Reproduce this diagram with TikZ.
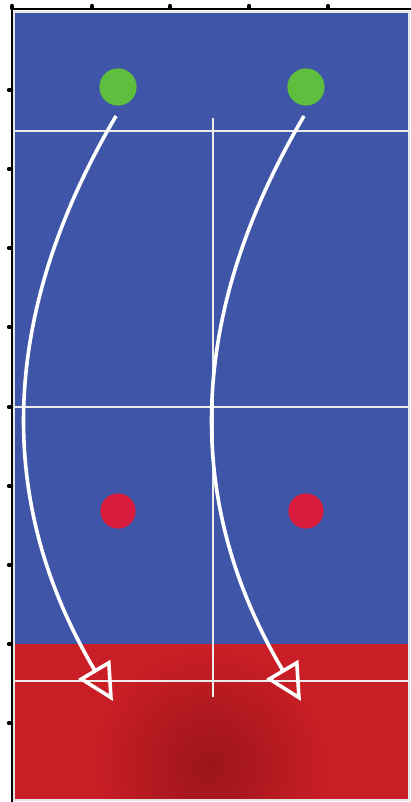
\documentclass[tikz,border=0pt]{standalone}
\usepackage{tikz}
\usetikzlibrary{arrows.meta}
\usepackage{xcolor}
\definecolor{fieldblue}{RGB}{63,86,168}
\definecolor{fieldred}{RGB}{202,30,38}
\definecolor{darkred}{RGB}{155,20,26}
\definecolor{blobgreen}{RGB}{96,190,62}
\definecolor{blobred}{RGB}{218,28,62}
\tikzset{
  gridline/.style={draw=white!85!gray, line width=0.05cm},
  flow/.style={draw=white, line width=0.09cm, -{Triangle[open, length=0.92cm, width=0.92cm]}},
  blob/.style={circle, inner sep=0pt, minimum size=0.93cm},
  tick/.style={line width=0.11cm, line cap=round}
}

\begin{document}
\begin{tikzpicture}[x=0.025cm, y=-0.025cm]
  \useasboundingbox (0,0) rectangle (411,802);
  % field
  \fill[fieldblue] (14,12) rectangle (409,644);
  \fill[fieldred] (14,644) rectangle (409,800);
  \begin{scope}
    \clip (14,644) rectangle (409,800);
    \shade[inner color=darkred, outer color=fieldred] (210,765) circle (120);
  \end{scope}
  \draw[white!80!gray, line width=0.05cm] (14,12) rectangle (409,800);
  % axes with ticks
  \draw[black, line width=0.05cm] (12,802) -- (12,9) -- (411,9);
  \draw[tick] (9,90) -- (11,90); \draw[tick] (9,169) -- (11,169); \draw[tick] (9,248) -- (11,248);
  \draw[tick] (9,327) -- (11,327); \draw[tick] (9,407) -- (11,407); \draw[tick] (9,486) -- (11,486);
  \draw[tick] (9,565) -- (11,565); \draw[tick] (9,644) -- (11,644); \draw[tick] (9,723) -- (11,723);
  \draw[tick] (12,6) -- (12,8); \draw[tick] (92,6) -- (92,8); \draw[tick] (170,6) -- (170,8);
  \draw[tick] (249,6) -- (249,8); \draw[tick] (328,6) -- (328,8);
  % white lines
  \draw[gridline] (14,131) -- (409,131);
  \draw[gridline] (14,407) -- (409,407);
  \draw[gridline] (14,681) -- (409,681);
  \draw[gridline] (213,118) -- (213,697);
  % blobs
  \node[blob, fill=blobgreen] (g1) at (118,87) {};
  \node[blob, fill=blobgreen] (g2) at (306,87) {};
  \node[blob, fill=blobred, minimum size=0.88cm] (r1) at (118,511) {};
  \node[blob, fill=blobred, minimum size=0.88cm] (r2) at (306,511) {};
  % arrows
  \coordinate (s1) at (116,116); \coordinate (e1) at (113,701);
  \coordinate (s2) at (304,116); \coordinate (e2) at (301,701);
  \draw[flow] (s1) .. controls (30,262) and (-30,460) .. (e1);
  \draw[flow] (s2) .. controls (218,262) and (158,460) .. (e2);
\end{tikzpicture}
\end{document}
